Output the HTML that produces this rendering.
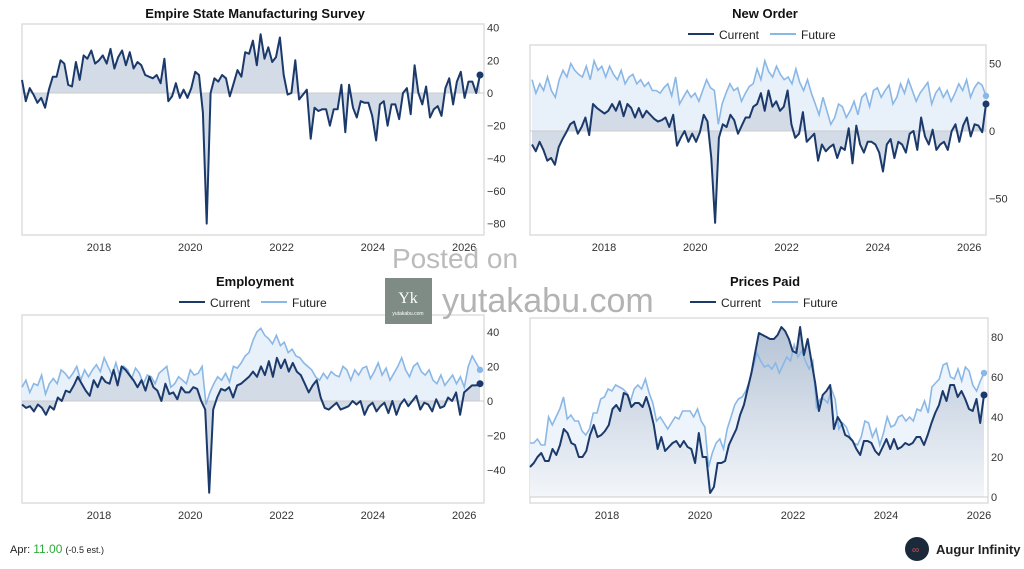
<!DOCTYPE html>
<html><head><meta charset="utf-8"><style>
html,body{margin:0;padding:0;background:#fff;width:1024px;height:569px;overflow:hidden;font-family:"Liberation Sans",sans-serif}
svg{position:absolute;left:0;top:0}
</style></head><body>
<svg id="s" width="1024" height="569" viewBox="0 0 1024 569" xmlns="http://www.w3.org/2000/svg">
<defs>
<linearGradient id="pg" x1="0" y1="0" x2="0" y2="1"><stop offset="0" stop-color="#b5c3d6"/><stop offset="1" stop-color="#f3f6fa"/></linearGradient>
</defs>
<g font-size="13" font-weight="bold" fill="#111" text-anchor="middle">
<text x="255" y="18">Empire State Manufacturing Survey</text>
<text x="765" y="18">New Order</text>
<text x="255" y="286">Employment</text>
<text x="765" y="286">Prices Paid</text>
</g>
<g font-size="12" fill="#222">
<line x1="688" y1="34" x2="714" y2="34" stroke="#1b3a6b" stroke-width="2"/><text x="719" y="39">Current</text>
<line x1="770" y1="34" x2="796" y2="34" stroke="#8ab8e6" stroke-width="2"/><text x="801" y="39">Future</text>
<line x1="179" y1="302" x2="205" y2="302" stroke="#1b3a6b" stroke-width="2"/><text x="210" y="307">Current</text>
<line x1="261" y1="302" x2="287" y2="302" stroke="#8ab8e6" stroke-width="2"/><text x="292" y="307">Future</text>
<line x1="690" y1="302" x2="716" y2="302" stroke="#1b3a6b" stroke-width="2"/><text x="721" y="307">Current</text>
<line x1="772" y1="302" x2="798" y2="302" stroke="#8ab8e6" stroke-width="2"/><text x="803" y="307">Future</text>
</g>
<g id="g"></g>
<text x="455" y="268" font-size="28" fill="#bbb" text-anchor="middle">Posted on</text>
<rect x="385" y="278" width="47" height="46" fill="#7f8c85"/>
<text x="408" y="303" font-size="16" fill="#fff" text-anchor="middle" font-family="Liberation Serif,serif">Yk</text>
<text x="408" y="315" font-size="5" fill="#fff" text-anchor="middle">yutakabu.com</text>
<text x="442" y="312" font-size="34" fill="#b3b3b3">yutakabu.com</text>
<text x="10" y="553" font-size="11" fill="#222">Apr: <tspan fill="#2eaa3a" font-size="12">11.00</tspan> <tspan font-size="9">(-0.5 est.)</tspan></text>
<circle cx="917" cy="549" r="12" fill="#1a2a3a"/>
<text x="912" y="553" font-size="10" fill="#e44" >∞</text>
<text x="936" y="554" font-size="13" font-weight="bold" fill="#222">Augur Infinity</text>
</svg>
<script>
const NS="http://www.w3.org/2000/svg",G=document.getElementById('g');
function el(t,a){const e=document.createElementNS(NS,t);for(const k in a)e.setAttribute(k,a[k]);G.appendChild(e);return e}
function txt(x,y,s,anchor){const e=el('text',{x:x,y:y,'font-size':11,fill:'#333','text-anchor':anchor||'start'});e.textContent=s}
function pts(d,x0,x1,f){return d.map((v,i)=>[x0+i*(x1-x0)/(d.length-1),f(v)])}
function ps(p){return p.map(q=>q[0].toFixed(1)+','+q[1].toFixed(1)).join(' ')}
function panel(o){
 el('rect',{x:o.bx0,y:o.by0,width:o.bx1-o.bx0,height:o.by1-o.by0,fill:'none',stroke:'#ddd','stroke-width':1.5});
 const f=v=>o.zy-v*o.k;
 o.yt.forEach(v=>txt(o.bx1+3,f(v)+4,v<0?'\u2212'+(-v):String(v)));
 const xs=o.xs;[2018,2020,2022,2024,2026].forEach((y,i)=>txt(xs[0]+i*xs[1],o.by1+16,String(y),'middle'));
 const base=o.base!==undefined?o.base:o.zy;
 if(o.fut){const p=pts(o.fut,o.lx0,o.lx1,f);el('polygon',{points:ps(p)+' '+p[p.length-1][0]+','+base+' '+p[0][0]+','+base,fill:o.ffill||'#e8f0fa'});}
 const c=pts(o.cur,o.lx0,o.lx1,f);
 el('polygon',{points:ps(c)+' '+c[c.length-1][0]+','+base+' '+c[0][0]+','+base,fill:o.cfill||'#d3dbe6'});
 el('line',{x1:o.bx0,x2:o.bx1,y1:o.zy,y2:o.zy,stroke:'#ccc','stroke-width':1});
 if(o.fut){const p=pts(o.fut,o.lx0,o.lx1,f);el('polyline',{points:ps(p),fill:'none',stroke:'#8ab8e6','stroke-width':1.6});const l=p[p.length-1];el('circle',{cx:l[0],cy:l[1],r:3.2,fill:'#8ab8e6'});}
 el('polyline',{points:ps(c),fill:'none',stroke:'#1b3a6b','stroke-width':2,'stroke-linejoin':'round'});
 const l=c[c.length-1];el('circle',{cx:l[0],cy:l[1],r:3.5,fill:'#1b3a6b'});
}
const emp=[8,-5,3,-1,-6,-3,-9,2,10,10,20,18,5,4,19,8,23,21,26,18,20,23,18,27,15,22,26,17,25,15,19,17,11,10,9,11,6,21,-5,-2,6,-3,2,-3,3,13,11,-12,-80,0,9,7,11,9,-2,6,14,10,25,24,32,17,36,21,28,19,22,34,11,-1,0,20,-4,-1,2,-28,-9,-11,-10,-10,-20,-10,-10,5,-24,5,-9,-15,-5,-6,-6,-14,-29,-7,-5,-20,-7,-7,-16,0,3,-13,17,0,-7,4,-15,-10,-8,-14,3,9,-7,7,13,-3,7,7,0,11];
panel({bx0:22,bx1:484,by0:24,by1:235,zy:93,k:1.633,yt:[40,20,0,-20,-40,-60,-80],xs:[99,91.3],lx0:22,lx1:480,cur:emp});
const noC=[-10,-15,-8,-14,-22,-20,-25,-12,-6,-1,5,7,-2,3,10,-3,20,17,15,13,15,20,15,22,11,20,17,10,17,10,15,12,9,7,8,10,3,12,-11,-5,0,-8,-2,-8,-1,12,7,-20,-68,-5,5,3,12,8,-2,4,10,10,18,20,28,15,30,18,22,15,18,30,5,-5,-2,14,-8,-5,-2,-22,-10,-15,-12,-10,-20,-12,-14,2,-24,4,-10,-16,-8,-8,-10,-16,-30,-10,-6,-20,-8,-10,-16,-2,0,-14,10,-4,-10,1,-14,-10,-8,-14,0,5,-8,4,10,-4,5,4,-1,20];
const noF=[38,28,35,30,40,30,25,38,45,40,50,45,42,40,48,38,52,45,48,40,48,42,38,45,35,40,42,35,38,33,36,30,30,28,32,35,26,40,20,25,30,25,28,22,30,38,32,30,5,20,28,35,30,32,22,28,33,35,46,38,52,44,40,48,42,38,40,35,46,36,30,38,28,20,12,25,15,5,10,20,18,10,15,22,12,25,28,18,30,32,25,30,34,20,25,35,28,38,30,22,28,32,36,20,28,32,25,30,22,28,35,30,38,25,32,36,34,26];
panel({bx0:530,bx1:986,by0:45,by1:235,zy:131,k:1.35,yt:[50,0,-50],xs:[604,91.3],lx0:532,lx1:986,cur:noC,fut:noF});
const eC=[-2,-4,-3,-6,-2,-4,-8,-3,-5,2,0,6,5,9,14,10,6,3,12,8,14,11,10,18,9,20,18,15,12,8,12,6,14,8,6,0,10,4,5,1,8,5,5,8,7,0,-5,-53,-5,2,7,6,8,2,9,10,12,14,17,14,20,15,23,14,25,19,24,17,22,17,15,10,5,9,12,2,-4,-5,-3,-1,-5,-4,-3,0,-2,0,-8,-3,-1,-6,-3,-1,-7,0,-8,-2,1,-3,0,3,-5,-1,-2,-6,1,-4,-3,2,0,5,-8,5,7,9,9,10];
const eF=[8,12,5,10,9,15,4,10,13,10,18,16,13,16,20,12,18,14,18,21,17,25,20,15,22,14,20,18,13,19,16,10,15,14,10,16,18,20,8,10,14,12,10,18,15,16,20,-2,5,10,14,12,16,11,20,19,22,26,28,35,40,42,38,36,33,38,32,34,28,30,26,25,22,20,18,14,12,16,13,17,15,14,20,18,12,18,15,19,20,13,17,22,15,19,12,16,20,25,18,14,20,22,17,15,18,12,10,15,9,12,15,10,14,8,20,26,22,18];
panel({bx0:22,bx1:484,by0:315,by1:503,zy:401,k:1.73,yt:[40,20,0,-20,-40],xs:[99,91.3],lx0:22,lx1:480,cur:eC,fut:eF});
const pC=[15,17,20,22,18,18,24,21,26,34,32,27,26,20,20,23,31,36,30,31,33,36,44,46,43,52,51,45,47,47,45,50,44,36,24,30,23,25,27,28,25,28,25,24,17,32,20,20,2,5,17,17,18,26,30,34,41,46,54,62,72,82,81,80,79,79,81,85,83,79,73,72,85,71,79,68,57,43,51,53,56,34,40,37,31,30,28,24,21,28,28,27,23,21,25,29,24,29,24,25,27,26,27,30,30,26,31,37,42,46,53,48,56,56,50,53,49,44,43,49,37,51];
const pF=[27,27,29,26,26,40,36,40,44,50,39,41,38,38,33,31,34,42,42,49,50,54,53,56,55,54,52,48,54,56,54,59,52,47,38,40,37,34,37,40,39,43,43,43,40,44,38,35,15,22,27,29,24,34,40,46,49,50,53,58,65,72,68,65,66,64,67,62,66,70,68,76,70,73,68,64,68,45,49,49,47,54,49,34,37,35,30,27,26,30,38,37,30,34,26,32,40,35,36,40,41,38,40,38,44,43,48,42,55,57,59,66,67,60,59,64,58,65,63,56,53,58,62];
panel({bx0:530,bx1:988,by0:318,by1:503,zy:497,k:2,yt:[80,60,40,20,0],xs:[607,93],lx0:530,lx1:994-10,cur:pC,fut:pF,cfill:'url(#pg)',ffill:'#eef4fb'});
</script>
</body></html>
